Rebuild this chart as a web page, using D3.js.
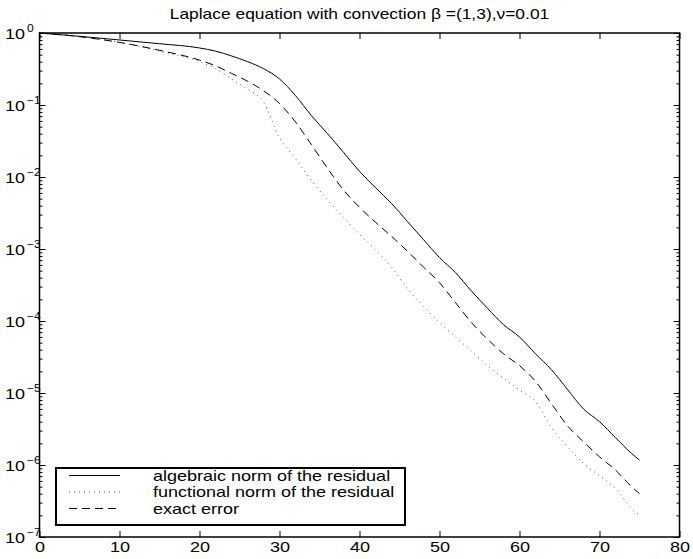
<!DOCTYPE html>
<html>
<head>
<meta charset="utf-8">
<script src="https://cdn.jsdelivr.net/npm/d3@7"></script>
<style>
  body { margin: 0; background: #fff; }
  svg text { font-family: "Liberation Sans", Arial, Helvetica, sans-serif; fill: #000; }
</style>
</head>
<body>
<script>
// iteration numbers shared by the three series
const iterations = [0, 5, 10, 15, 20, 22, 24, 26, 28, 30, 32, 34, 36, 38, 40, 42, 44, 46, 48, 50,
  52, 54, 56, 58, 60, 62, 64, 66, 68, 70, 72, 74, 75]

const algebraicNorm = [1, 0.90, 0.80, 0.71, 0.62, 0.56, 0.48, 0.40, 0.32, 0.23, 0.135, 0.071, 0.040,
  0.022, 0.012, 7.1e-3, 4.3e-3, 2.4e-3, 1.35e-3, 7.6e-4, 4.7e-4, 2.6e-4, 1.5e-4, 8.9e-5, 6.0e-5,
  3.5e-5, 2.1e-5, 1.12e-5, 6.0e-6, 4.0e-6, 2.4e-6, 1.45e-6, 1.17e-6]

const functionalNorm = [1, 0.89, 0.74, 0.56, 0.40, 0.32, 0.23, 0.166, 0.11, 0.035, 0.018, 8.9e-3,
  4.8e-3, 2.75e-3, 1.6e-3, 9.8e-4, 5.6e-4, 2.8e-4, 1.6e-4, 9.5e-5, 6.0e-5, 3.8e-5, 2.4e-5, 1.6e-5,
  1.1e-5, 7.6e-6, 3.3e-6, 1.8e-6, 1.05e-6, 7.1e-7, 4.7e-7, 2.5e-7, 2.0e-7]

const exactError = [1, 0.89, 0.74, 0.575, 0.42, 0.35, 0.275, 0.214, 0.158, 0.105, 0.058, 0.028,
  0.0132, 6.6e-3, 3.8e-3, 2.35e-3, 1.5e-3, 9.3e-4, 5.6e-4, 3.4e-4, 1.8e-4, 9.5e-5, 5.6e-5, 3.5e-5,
  2.4e-5, 1.45e-5, 7.1e-6, 3.5e-6, 2.1e-6, 1.3e-6, 8.5e-7, 5.0e-7, 4.0e-7]

const xTicks = [0, 10, 20, 30, 40, 50, 60, 70, 80]
const yExponents = [0, -1, -2, -3, -4, -5, -6, -7]
const legendLabels = ['algebraic norm of the residual', 'functional norm of the residual', 'exact error']
const title = 'Laplace equation with convection  \u03b2 =(1,3),\u03bd=0.01'

const width = 693
const height = 559
const margin = { top: 33, right: 13.5, bottom: 22, left: 39.5 }
// the original figure is stretched sideways, so text gets widened too
const stretch = 1.2

const x = d3.scaleLinear().domain([0, 80]).range([margin.left, width - margin.right])
const y = d3.scaleLog().domain([1e-7, 1]).range([height - margin.bottom, margin.top])

const series = [
  { values: algebraicNorm, dash: null, color: '#000', width: 1 },
  { values: functionalNorm, dash: '1,4', color: '#555', width: 1 },
  { values: exactError, dash: '8,5', color: '#000', width: 1 }
]

const svg = d3.select('body').append('svg')
  .attr('width', width)
  .attr('height', height)

// curves
const line = d3.line()
  .x((d, i) => x(iterations[i]))
  .y(d => y(d))
  .curve(d3.curveMonotoneX)

series.forEach(s => {
  svg.append('path')
    .datum(s.values)
    .attr('d', line)
    .attr('fill', 'none')
    .attr('stroke', s.color)
    .attr('stroke-width', s.width)
    .attr('stroke-dasharray', s.dash)
})

// axes, ticks pointing inward
const majorY = yExponents.map(e => Math.pow(10, e))
const minorY = y.ticks().filter(v => !majorY.some(m => Math.abs(m - v) / v < 1e-6))

const addAxis = (axis, tx, ty) => {
  const g = svg.append('g').attr('transform', `translate(${tx},${ty})`).call(axis)
  g.select('.domain').remove()
  g.selectAll('line').attr('stroke', '#000').attr('stroke-width', 1)
  return g
}

const bottom = addAxis(d3.axisBottom(x).tickValues(xTicks).tickSizeInner(-6).tickSizeOuter(0).tickPadding(4),
  0, height - margin.bottom)
bottom.selectAll('text').style('font-size', '15px')
addAxis(d3.axisTop(x).tickValues(xTicks).tickSizeInner(-6).tickSizeOuter(0).tickFormat(''), 0, margin.top)

addAxis(d3.axisLeft(y).tickValues(majorY).tickSizeInner(-6).tickSizeOuter(0).tickFormat(''), margin.left, 0)
addAxis(d3.axisLeft(y).tickValues(minorY).tickSizeInner(-3).tickSizeOuter(0).tickFormat(''), margin.left, 0)
addAxis(d3.axisRight(y).tickValues(majorY).tickSizeInner(-6).tickSizeOuter(0).tickFormat(''), width - margin.right, 0)
addAxis(d3.axisRight(y).tickValues(minorY).tickSizeInner(-3).tickSizeOuter(0).tickFormat(''), width - margin.right, 0)

// y labels as 10 with a raised exponent
const yLabels = svg.append('g')
yExponents.forEach(e => {
  const v = Math.pow(10, e)
  yLabels.append('text')
    .attr('x', margin.left - 14.5)
    .attr('y', y(v) + 5.5)
    .attr('text-anchor', 'end')
    .style('font-size', '15px')
    .text('10')
  yLabels.append('text')
    .attr('x', margin.left - 12.5)
    .attr('y', y(v) - 1)
    .style('font-size', '10px')
    .text(e === 0 ? '0' : '\u2212' + Math.abs(e))
})

// plot box
svg.append('rect')
  .attr('x', margin.left)
  .attr('y', margin.top)
  .attr('width', width - margin.left - margin.right)
  .attr('height', height - margin.top - margin.bottom)
  .attr('fill', 'none')
  .attr('stroke', '#000')
  .attr('stroke-width', 1.5)

// title
svg.append('text')
  .attr('x', (x.range()[0] + x.range()[1]) / 2)
  .attr('y', 19)
  .attr('text-anchor', 'middle')
  .style('font-size', '14.5px')
  .text(title)

// legend
const legend = svg.append('g')
legend.append('rect')
  .attr('x', 56)
  .attr('y', 468)
  .attr('width', 349)
  .attr('height', 57)
  .attr('fill', '#fff')
  .attr('stroke', '#000')
  .attr('stroke-width', 2)

legendLabels.forEach((label, i) => {
  const ly = 475.5 + i * 16.5
  legend.append('line')
    .attr('x1', 69)
    .attr('x2', 120)
    .attr('y1', ly)
    .attr('y2', ly)
    .attr('stroke', series[i].color)
    .attr('stroke-width', series[i].width)
    .attr('stroke-dasharray', series[i].dash)
  legend.append('text')
    .attr('x', 153)
    .attr('y', ly + 5)
    .style('font-size', '15px')
    .text(label)
})

// widen every text to match the stretched original
svg.selectAll('text').each(function () {
  const len = this.getComputedTextLength()
  if (len > 0) {
    d3.select(this)
      .attr('textLength', len * stretch)
      .attr('lengthAdjust', 'spacingAndGlyphs')
  }
})
</script>
</body>
</html>
